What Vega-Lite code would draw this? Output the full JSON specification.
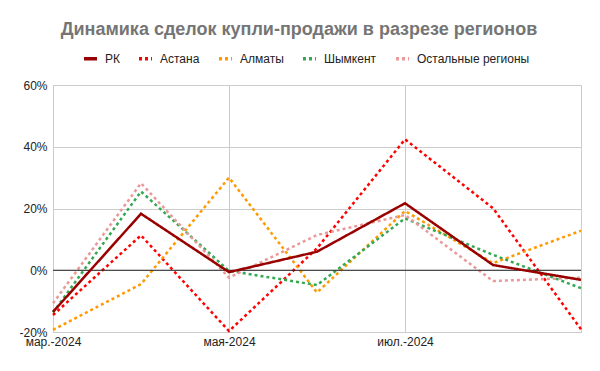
{
  "$schema": "https://vega.github.io/schema/vega-lite/v6.json",
  "width": 528,
  "height": 247,
  "autosize": {"type": "none"},
  "padding": {"left": 53, "top": 85, "right": 19, "bottom": 39},
  "background": "white",
  "config": {
    "font": "Liberation Sans",
    "view": {"stroke": "#cccccc"}
  },
  "title": {
    "text": "Динамика сделок купли-продажи в разрезе регионов",
    "fontSize": 18,
    "fontWeight": "bold",
    "color": "#757575",
    "font": "Liberation Sans",
    "anchor": "middle",
    "frame": "group",
    "dx": -18,
    "offset": -3,
    "baseline": "alphabetic"
  },
  "datasets": {
    "d": [
      {"month": "мар.-2024", "region": "РК", "value": -0.135},
      {"month": "апр.-2024", "region": "РК", "value": 0.183},
      {"month": "мая-2024", "region": "РК", "value": -0.006},
      {"month": "июн.-2024", "region": "РК", "value": 0.060},
      {"month": "июл.-2024", "region": "РК", "value": 0.217},
      {"month": "авг.-2024", "region": "РК", "value": 0.017},
      {"month": "сент.-2024", "region": "РК", "value": -0.031},
      {"month": "мар.-2024", "region": "Астана", "value": -0.145},
      {"month": "апр.-2024", "region": "Астана", "value": 0.113},
      {"month": "мая-2024", "region": "Астана", "value": -0.197},
      {"month": "июн.-2024", "region": "Астана", "value": 0.071},
      {"month": "июл.-2024", "region": "Астана", "value": 0.424},
      {"month": "авг.-2024", "region": "Астана", "value": 0.201},
      {"month": "сент.-2024", "region": "Астана", "value": -0.191},
      {"month": "мар.-2024", "region": "Алматы", "value": -0.193},
      {"month": "апр.-2024", "region": "Алматы", "value": -0.045},
      {"month": "мая-2024", "region": "Алматы", "value": 0.300},
      {"month": "июн.-2024", "region": "Алматы", "value": -0.072},
      {"month": "июл.-2024", "region": "Алматы", "value": 0.192},
      {"month": "авг.-2024", "region": "Алматы", "value": 0.023},
      {"month": "сент.-2024", "region": "Алматы", "value": 0.128},
      {"month": "мар.-2024", "region": "Шымкент", "value": -0.137},
      {"month": "апр.-2024", "region": "Шымкент", "value": 0.255},
      {"month": "мая-2024", "region": "Шымкент", "value": -0.002},
      {"month": "июн.-2024", "region": "Шымкент", "value": -0.048},
      {"month": "июл.-2024", "region": "Шымкент", "value": 0.168},
      {"month": "авг.-2024", "region": "Шымкент", "value": 0.050},
      {"month": "сент.-2024", "region": "Шымкент", "value": -0.058},
      {"month": "мар.-2024", "region": "Остальные регионы", "value": -0.107},
      {"month": "апр.-2024", "region": "Остальные регионы", "value": 0.282},
      {"month": "мая-2024", "region": "Остальные регионы", "value": -0.024},
      {"month": "июн.-2024", "region": "Остальные регионы", "value": 0.114},
      {"month": "июл.-2024", "region": "Остальные регионы", "value": 0.179},
      {"month": "авг.-2024", "region": "Остальные регионы", "value": -0.035},
      {"month": "сент.-2024", "region": "Остальные регионы", "value": -0.024}
    ],
    "zero": [{"y": 0}]
  },
  "layer": [
    {
      "data": {"name": "d"},
      "transform": [{"filter": "datum.region !== 'РК'"}],
      "mark": {"type": "line", "strokeWidth": 2.5, "strokeCap": "butt"},
      "encoding": {
        "x": {
          "field": "month",
          "type": "ordinal",
          "sort": ["мар.-2024", "апр.-2024", "мая-2024", "июн.-2024", "июл.-2024", "авг.-2024", "сент.-2024"]
        },
        "y": {"field": "value", "type": "quantitative"},
        "color": {"field": "region", "type": "nominal"},
        "strokeDash": {"field": "region", "type": "nominal"}
      }
    },
    {
      "data": {"name": "zero"},
      "mark": {"type": "rule", "color": "#222222", "strokeWidth": 1},
      "encoding": {
        "y": {"field": "y", "type": "quantitative"}
      }
    },
    {
      "data": {"name": "d"},
      "transform": [{"filter": "datum.region === 'РК'"}],
      "mark": {"type": "line", "strokeWidth": 2.5, "strokeCap": "butt"},
      "encoding": {
        "x": {
          "field": "month",
          "type": "ordinal",
          "sort": ["мар.-2024", "апр.-2024", "мая-2024", "июн.-2024", "июл.-2024", "авг.-2024", "сент.-2024"],
          "scale": {"type": "point", "padding": 0},
          "axis": {
            "title": null,
            "values": ["мар.-2024", "мая-2024", "июл.-2024", "сент.-2024"],
            "labelExpr": "datum.value === 'сент.-2024' ? '' : datum.value",
            "labelAngle": 0,
            "labelAlign": "center",
            "labelFlush": false,
            "labelBound": false,
            "labelOverlap": false,
            "grid": true,
            "gridColor": "#cccccc",
            "domain": false,
            "ticks": false,
            "labelPadding": 9,
            "labelFontSize": 12,
            "labelColor": "#222222",
            "labelFont": "Liberation Sans"
          }
        },
        "y": {
          "field": "value",
          "type": "quantitative",
          "scale": {"domain": [-0.2, 0.6], "nice": false, "zero": false},
          "axis": {
            "title": null,
            "values": [-0.2, 0, 0.2, 0.4, 0.6],
            "labelExpr": "round(datum.value * 100) + '%'",
            "labelFlush": false,
            "grid": true,
            "gridColor": "#cccccc",
            "domain": false,
            "ticks": false,
            "labelPadding": 6,
            "labelFontSize": 12,
            "labelColor": "#222222",
            "labelFont": "Liberation Sans"
          }
        },
        "color": {
          "field": "region",
          "type": "nominal",
          "scale": {
            "domain": ["РК", "Астана", "Алматы", "Шымкент", "Остальные регионы"],
            "range": ["#990000", "#ff0000", "#ff9900", "#34a853", "#ea9999"]
          },
          "legend": {
            "title": null,
            "orient": "none",
            "direction": "horizontal",
            "legendX": 29,
            "legendY": -35,
            "padding": 0,
            "symbolType": "stroke",
            "symbolSize": 169,
            "symbolStrokeWidth": 3.5,
            "labelFontSize": 12,
            "labelFont": "Liberation Sans",
            "labelColor": "#222222",
            "labelOffset": 6,
            "columnPadding": 12
          }
        },
        "strokeDash": {
          "field": "region",
          "type": "nominal",
          "scale": {
            "domain": ["РК", "Астана", "Алматы", "Шымкент", "Остальные регионы"],
            "range": [[1, 0], [3, 3], [3, 3], [3, 3], [3, 3]]
          },
          "legend": {
            "title": null,
            "orient": "none",
            "direction": "horizontal",
            "legendX": 29,
            "legendY": -35,
            "padding": 0,
            "symbolType": "stroke",
            "symbolSize": 169,
            "symbolStrokeWidth": 3.5,
            "labelFontSize": 12,
            "labelFont": "Liberation Sans",
            "labelColor": "#222222",
            "labelOffset": 6,
            "columnPadding": 12
          }
        }
      }
    }
  ]
}
